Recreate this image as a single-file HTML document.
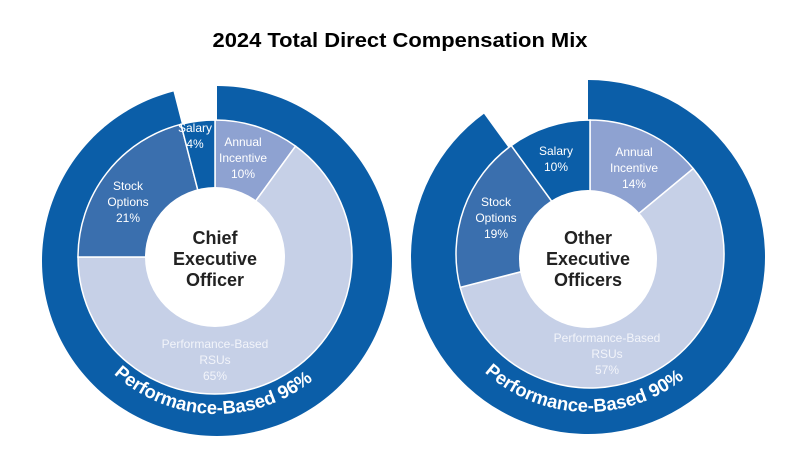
<!DOCTYPE html>
<html><head><meta charset="utf-8"><style>
html,body{margin:0;padding:0;background:#fff;width:800px;height:455px;overflow:hidden}
svg{display:block;font-family:"Liberation Sans",sans-serif}
</style></head><body>
<svg id="chart" width="800" height="455" viewBox="0 0 800 455">
<text x="400" y="47" text-anchor="middle" font-size="20" font-weight="bold" fill="#000" textLength="375" lengthAdjust="spacingAndGlyphs">2024 Total Direct Compensation Mix</text>
</svg>
<script>
// data
const categories = ["Annual Incentive","Performance-Based RSUs","Stock Options","Salary"];
const ceoValues = [10, 65, 21, 4];
const neoValues = [14, 57, 19, 10];
const perfBased = [96, 90];
const chartTitles = [["Chief","Executive","Officer"],["Other","Executive","Officers"]];
const labelLines = [["Annual","Incentive"],["Performance-Based","RSUs"],["Stock","Options"],["Salary"]];

const colors = ["#8ea2d1","#c6d0e7","#3a6fae","#0b5ea8"];
const ns = "http://www.w3.org/2000/svg";
const svg = document.getElementById('chart');
function mk(t, a){const e=document.createElementNS(ns,t);for(const k in a)e.setAttribute(k,a[k]);return e;}
function pt(cx,cy,r,deg){const a=deg*Math.PI/180;return [cx+r*Math.sin(a), cy-r*Math.cos(a)];}
function wedge(cx,cy,r0,r1,a0,a1){
  const large=(a1-a0)>180?1:0;
  const p1=pt(cx,cy,r1,a0),p2=pt(cx,cy,r1,a1),p3=pt(cx,cy,r0,a1),p4=pt(cx,cy,r0,a0);
  return `M${p1[0]},${p1[1]} A${r1},${r1} 0 ${large} 1 ${p2[0]},${p2[1]} L${p3[0]},${p3[1]} A${r0},${r0} 0 ${large} 0 ${p4[0]},${p4[1]} Z`;
}
const geos = [
  {ocx:217, ocy:261, R:175, icx:215, icy:257, r:137, hcx:215, hcy:257, h:70, labelPos:[[243,146],[215,348],[128,190],[195,132]], textY:238},
  {ocx:588, ocy:257, R:177, icx:590, icy:254, r:134, hcx:588, hcy:259, h:69, labelPos:[[634,156],[607,342],[496,206],[556,155]], textY:238}
];
const datasets=[ceoValues, neoValues];
geos.forEach((g,ci)=>{
  const vals=datasets[ci];
  const total=vals.reduce((a,b)=>a+b,0);
  const grp=mk('g',{});
  
  
  svg.appendChild(grp);
  const pEnd = perfBased[ci]/100*360;
  const ring=mk('path',{d:wedge(g.ocx,g.ocy,0.01,g.R,0,pEnd),fill:"#0b5ea8"});
  
  
  grp.appendChild(ring);
  let a=0;
  vals.forEach((v,i)=>{
    const a1=a+v/total*360;
    const p=mk('path',{d:wedge(g.icx,g.icy,0.01,g.r,a,a1),fill:colors[i],stroke:"#fff","stroke-width":1.5});
    
    
    grp.appendChild(p);
    a=a1;
  });
  const hole=mk('circle',{cx:g.hcx,cy:g.hcy,r:g.h,fill:"#fff"});
  
  
  grp.appendChild(hole);
  vals.forEach((v,i)=>{
    const lines=labelLines[i].concat([v+"%"]);
    const [lx,ly]=g.labelPos[i];
    const t=mk('text',{x:lx,y:ly,"text-anchor":"middle","font-size":12,fill:i===1?"#f2f4fa":"#fff"});
    
    
    lines.forEach((ln,j)=>{const s=mk('tspan',{x:lx,y:ly+j*16});s.textContent=ln;t.appendChild(s);});
    grp.appendChild(t);
  });
  const ct=mk('text',{"text-anchor":"middle","font-size":18,"font-weight":"bold",fill:"#222"});
  
  
  chartTitles[ci].forEach((ln,j)=>{const s=mk('tspan',{x:g.hcx,y:g.textY+6+j*21});s.textContent=ln;ct.appendChild(s);});
  grp.appendChild(ct);
  const rr=g.R-22;
  const pid='arc'+ci;
  const arc=mk('path',{id:pid,d:`M${g.ocx-rr},${g.ocy} A${rr},${rr} 0 0 0 ${g.ocx+rr},${g.ocy}`,fill:"none"});
  grp.appendChild(arc);
  const ctext=mk('text',{"font-size":18.5,"font-weight":"bold",fill:"#fff"});
  
  
  const tp=mk('textPath',{href:'#'+pid,startOffset:"49%","text-anchor":"middle"});
  tp.textContent="Performance-Based "+perfBased[ci]+"%";
  ctext.appendChild(tp);
  grp.appendChild(ctext);
});
</script>
</body></html>
